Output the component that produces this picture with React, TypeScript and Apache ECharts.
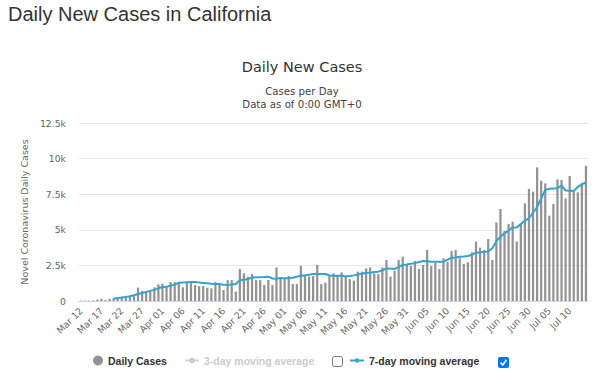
import React, { useEffect, useRef } from 'react';
import * as echarts from 'echarts';

const monthSpans: [string, number, number][] = [
  ['Mar', 12, 31],
  ['Apr', 1, 30],
  ['May', 1, 31],
  ['Jun', 1, 30],
  ['Jul', 1, 14],
];
const dates: string[] = monthSpans.flatMap(([m, a, b]) =>
  Array.from({ length: b - a + 1 }, (_, k) => `${m} ${String(a + k).padStart(2, '0')}`)
);

const dailyCases = [
  20, 20, 30, 40, 100, 150, 80, 150, 190, 190,
  260, 300, 330, 350, 940, 700, 650, 700, 960, 1170,
  1220, 980, 1330, 1330, 1290, 960, 1380, 1310, 1120, 1050,
  1050, 940, 890, 1330, 1190, 770, 1470, 1470, 660, 2250,
  1940, 1710, 1900, 1470, 1470, 1120, 1470, 1120, 2360, 1590,
  1590, 1760, 1190, 1190, 2460, 1750, 1710, 1750, 2530, 1190,
  1290, 1830, 1940, 1830, 2010, 1750, 1540, 1430, 2060, 2060,
  2290, 2360, 1940, 1890, 2360, 2880, 1710, 2130, 2880, 3110,
  2530, 2460, 2810, 2250, 2530, 3580, 2460, 2690, 2250, 3000,
  2760, 3510, 3580, 3000, 2600, 2720, 3420, 4170, 3750, 3580,
  4350, 2880, 5520, 6460, 4910, 5400, 5570, 4170, 5450, 6860,
  7860, 7680, 9380, 8450, 8260, 5990, 6810, 8540, 8490, 7210,
  8780, 7680, 7630, 8260, 9500,
];

const sevenDayAvg = [
  null, null, null, null, null, null, null, null, 160, 210,
  250, 290, 330, 400, 490, 560, 640, 710, 780, 900,
  980, 1000, 1080, 1150, 1280, 1300, 1310, 1330, 1330, 1300,
  1270, 1240, 1210, 1190, 1190, 1140, 1120, 1160, 1200, 1450,
  1500, 1540, 1650, 1660, 1660, 1680, 1710, 1580, 1560, 1610,
  1600, 1590, 1640, 1700, 1780, 1800, 1850, 1890, 1900, 1900,
  1900, 1790, 1780, 1780, 1780, 1730, 1760, 1800, 1860, 1920,
  1980, 1990, 2030, 2060, 2150, 2290, 2280, 2250, 2380, 2530,
  2570, 2620, 2660, 2740, 2810, 2790, 2760, 2760, 2760, 2760,
  2900, 3040, 3060, 3110, 3130, 3160, 3250, 3390, 3420, 3450,
  3480, 3700, 4200, 4520, 4750, 4950, 5170, 5170, 5400, 5640,
  5800, 6200, 6600, 7200, 7800, 7880, 7900, 7920, 8100, 7760,
  7740, 7720, 8000, 8200, 8320,
];

const threeDayAvg: (number | null)[] = [];

const yTickLabels = ['0', '2.5k', '5k', '7.5k', '10k', '12.5k'];

const pageTitle = 'Daily New Cases in California';
const chartTitle = 'Daily New Cases';
const subtitleLines = ['Cases per Day', 'Data as of 0:00 GMT+0'];
const yAxisName = 'Novel Coronavirus Daily Cases';
const seriesNames = ['Daily Cases', '3-day moving average', '7-day moving average'];

const AXIS_FONT = 'DejaVu Sans';
const LEGEND_FONT = 'Liberation Sans';

export default function App() {
  const ref = useRef<HTMLDivElement>(null);

  useEffect(() => {
    if (!ref.current) return;
    const chart = echarts.init(ref.current, undefined, { renderer: 'svg' });
    const legendText = {
      color: '#333',
      fontWeight: 'bold' as const,
      fontSize: 10.5,
      fontFamily: LEGEND_FONT,
    };
    chart.setOption({
      animation: false,
      backgroundColor: '#fff',
      grid: { left: 79, right: 12, top: 123, bottom: 82, containLabel: false },
      graphic: [
        {
          type: 'text',
          x: 8,
          y: 14,
          style: {
            text: pageTitle,
            fill: '#333',
            font: `20px "${LEGEND_FONT}"`,
            align: 'left',
            verticalAlign: 'middle',
          },
        },
        {
          type: 'text',
          x: 302,
          y: 67,
          style: {
            text: chartTitle,
            fill: '#333',
            font: `14.5px "${AXIS_FONT}"`,
            align: 'center',
            verticalAlign: 'middle',
          },
        },
        {
          type: 'text',
          x: 302,
          y: 91,
          style: {
            text: subtitleLines[0],
            fill: '#444',
            font: `10.2px "${AXIS_FONT}"`,
            align: 'center',
            verticalAlign: 'middle',
          },
        },
        {
          type: 'text',
          x: 302,
          y: 104,
          style: {
            text: subtitleLines[1],
            fill: '#444',
            font: `10.2px "${AXIS_FONT}"`,
            align: 'center',
            verticalAlign: 'middle',
          },
        },
        {
          type: 'rect',
          shape: { x: 332.5, y: 356.5, width: 10, height: 10, r: 2 },
          style: { fill: '#fff', stroke: '#767676', lineWidth: 1 },
        },
        {
          type: 'rect',
          shape: { x: 498, y: 357, width: 11, height: 11, r: 2 },
          style: { fill: '#0075ff' },
        },
        {
          type: 'polyline',
          shape: { points: [[500.5, 362.5], [502.8, 365], [506.5, 359.8]] },
          style: { stroke: '#fff', lineWidth: 1.7, fill: null },
        },
      ],
      legend: [
        {
          data: [seriesNames[0]],
          left: 93,
          top: 355,
          padding: 0,
          icon: 'circle',
          itemWidth: 10,
          itemHeight: 10,
          textStyle: legendText,
        },
        {
          data: [seriesNames[1]],
          left: 184,
          top: 355,
          padding: 0,
          itemWidth: 14,
          itemHeight: 7,
          inactiveColor: '#ccc',
          selected: { [seriesNames[1]]: false },
          textStyle: legendText,
        },
        {
          data: [seriesNames[2]],
          left: 349,
          top: 355,
          padding: 0,
          itemWidth: 14,
          itemHeight: 7,
          textStyle: legendText,
        },
      ],
      xAxis: {
        type: 'category',
        data: dates,
        boundaryGap: true,
        axisLine: { lineStyle: { color: '#ccd6eb' } },
        axisTick: { show: false },
        axisLabel: {
          interval: 4,
          rotate: 45,
          margin: 8,
          color: '#666',
          fontSize: 9.3,
          fontFamily: AXIS_FONT,
        },
        splitLine: { show: false },
      },
      yAxis: {
        type: 'value',
        min: 0,
        max: 12500,
        interval: 2500,
        name: yAxisName,
        nameLocation: 'middle',
        nameGap: 45,
        nameTextStyle: { color: '#666', fontSize: 9.5, fontFamily: AXIS_FONT },
        axisLine: { show: false },
        axisTick: { show: false },
        axisLabel: {
          margin: 13,
          color: '#666',
          fontSize: 9.3,
          fontFamily: AXIS_FONT,
          formatter: (v: number) => yTickLabels[Math.round(v / 2500)] ?? String(v),
        },
        splitLine: { lineStyle: { color: '#e6e6e6' } },
      },
      series: [
        {
          name: seriesNames[0],
          type: 'bar',
          data: dailyCases,
          barWidth: '55%',
          itemStyle: { color: '#939393' },
        },
        {
          name: seriesNames[1],
          type: 'line',
          data: threeDayAvg,
          symbol: 'circle',
          showSymbol: false,
          itemStyle: { color: '#bbbbbb' },
          lineStyle: { width: 2 },
        },
        {
          name: seriesNames[2],
          type: 'line',
          data: sevenDayAvg,
          symbol: 'diamond',
          symbolSize: 7,
          showSymbol: false,
          connectNulls: false,
          itemStyle: { color: '#33a3d0' },
          lineStyle: { width: 2, color: '#33a3d0' },
          z: 3,
        },
      ],
    });
    return () => chart.dispose();
  }, []);

  return (
    <div
      ref={ref}
      style={{ position: 'absolute', left: 0, top: 0, width: 600, height: 383 }}
    />
  );
}
